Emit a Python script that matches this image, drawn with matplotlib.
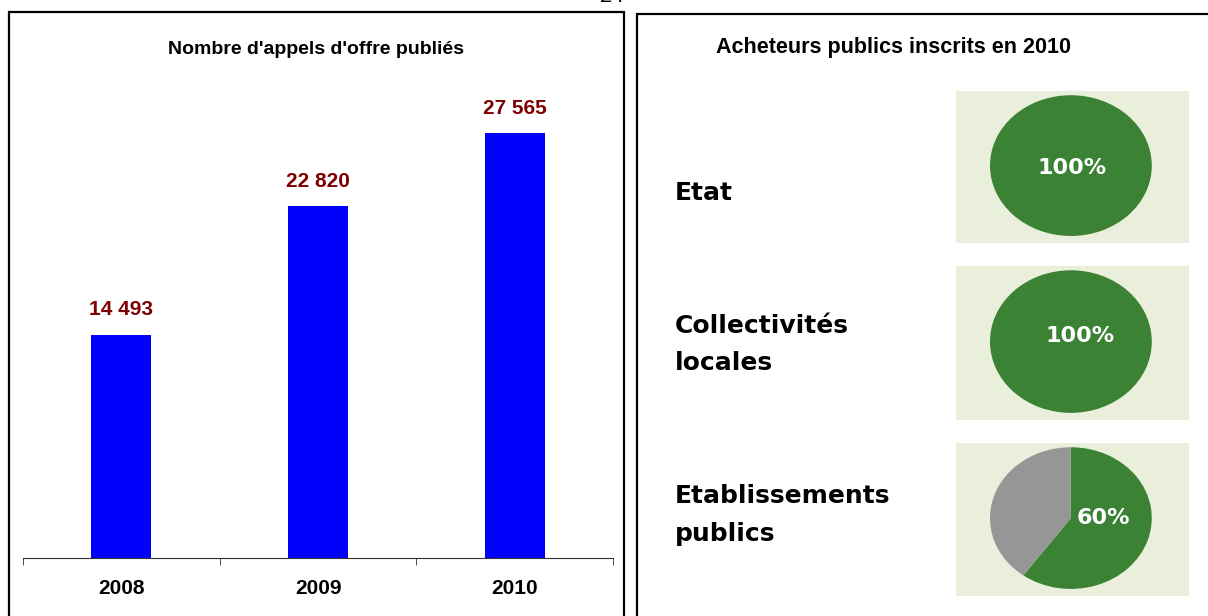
import matplotlib.pyplot as plt
from matplotlib.patches import Rectangle

# Data
years = ["2008", "2009", "2010"]
appels = [14493, 22820, 27565]
value_labels = ["14 493", "22 820", "27 565"]

acheteurs = ["Etat", "Collectivités\nlocales", "Etablissements\npublics"]
inscrits_pct = [100, 100, 60]

W, H = 1208, 616
fig = plt.figure(figsize=(W / 100, H / 100), dpi=100)

def px(x0, y0, x1, y1):
    # pixel box (top-left origin) -> figure fraction rect
    return [x0 / W, 1 - y1 / H, (x1 - x0) / W, (y1 - y0) / H]

narrow = ["Liberation Sans Narrow", "Liberation Sans", "DejaVu Sans"]

# Panel frames
fig.patches.append(Rectangle((9 / W, -0.05), (624 - 9) / W, 1.05 - 12 / H,
                             transform=fig.transFigure, fill=False, lw=1.6, ec="black"))
fig.patches.append(Rectangle((637 / W, -0.05), 0.5, 1.05 - 14 / H,
                             transform=fig.transFigure, fill=False, lw=1.6, ec="black"))
# page number, cut off at the top as in the source
fig.text(613 / W, 1 + 3 / H, "24", ha="center", va="center", fontsize=16,
         style="italic", family="Liberation Sans")

# Bar chart
ax = fig.add_axes(px(23, 95.5, 613, 558))
x = range(len(years))
bars = ax.bar(x, appels, width=0.305, color="#0000FF")
ax.set_xlim(-0.5, 2.5)
ax.set_ylim(0, 30000)
for b, lab in zip(bars, value_labels):
    ax.annotate(lab, (b.get_x() + b.get_width() / 2, b.get_height()),
                xytext=(0, 18), textcoords="offset points", ha="center", va="center",
                color="#800000", fontsize=15, fontweight="bold", family=narrow)
for s in ["left", "right", "top"]:
    ax.spines[s].set_visible(False)
ax.spines["bottom"].set_color("#333333")
ax.set_yticks([])
ax.set_xticks(list(x))
ax.set_xticklabels(years, fontsize=15, fontweight="bold", family=narrow)
ax.tick_params(axis="x", which="major", length=0, pad=15)
ax.set_xticks([-0.5, 0.5, 1.5, 2.5], minor=True)
ax.tick_params(axis="x", which="minor", length=5, color="#333333", direction="out")
fig.text(316 / W, 1 - 50 / H, "Nombre d'appels d'offre publiés", ha="center", va="center",
         fontsize=14, fontweight="bold", family=narrow)

# Right panel: pies
fig.text(894 / W, 1 - 47 / H, "Acheteurs publics inscrits en 2010", ha="center", va="center",
         fontsize=15.5, fontweight="bold", family="Liberation Sans")

boxes = [(956, 91, 1189, 243), (956, 266, 1189, 420), (956, 443, 1189, 596)]
label_pos = [(0.01, -0.04), (0.11, 0.08), (0.40, 0.0)]
text_y = [193, 344.5, 515]
for name, pct, box, lp, ty in zip(acheteurs, inscrits_pct, boxes, label_pos, text_y):
    pax = fig.add_axes(px(*box))
    vals = [pct, 100 - pct] if pct < 100 else [pct]
    pax.pie(vals, colors=["#3B8235", "#969696"], startangle=90, counterclock=False,
            wedgeprops=dict(linewidth=0))
    pax.set_aspect("auto")
    pax.set_frame_on(True)
    pax.set_facecolor("#EAEFDC")
    for s in pax.spines.values():
        s.set_visible(False)
    pax.set_xlim(-1.42, 1.46)
    pax.set_ylim(-1.10, 1.06)
    pax.set_xticks([])
    pax.set_yticks([])
    pax.text(lp[0], lp[1], f"{pct}%", ha="center", va="center", color="white",
             fontsize=16, fontweight="bold", family="DejaVu Sans")
    fig.text(675 / W, 1 - ty / H, name, ha="left", va="center", fontsize=18,
             fontweight="bold", family="DejaVu Sans", linespacing=1.7)

fig.savefig("out.png", dpi=100)
